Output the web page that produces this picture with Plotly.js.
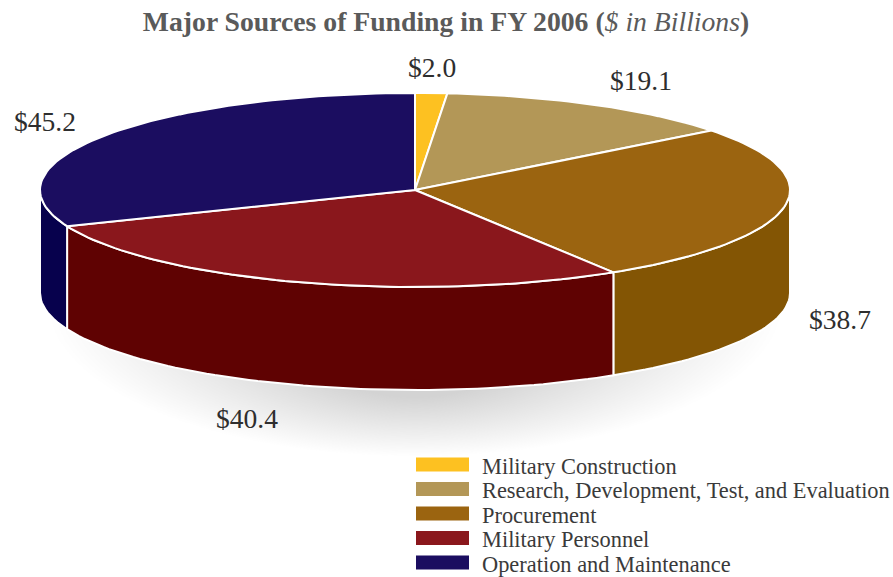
<!DOCTYPE html>
<html>
<head>
<meta charset="utf-8">
<script src="https://cdn.plot.ly/plotly-3.0.1.min.js"></script>
<style>html,body{margin:0;padding:0;background:#fff}#chart{width:893px;height:577px}</style>
</head>
<body>
<div id="chart"></div>
<script>
const categories = ["Military Construction","Research, Development, Test, and Evaluation","Procurement","Military Personnel","Operation and Maintenance"];
const values = [2.0,19.1,38.7,40.4,45.2];
const valueLabels = ["$2.0","$19.1","$38.7","$40.4","$45.2"];
const topColors = ["#fdc121","#b39757","#9b6410","#8a171c","#1b0d60"];
const sideColors = ["#c99a10","#8c7440","#835504","#5f0202","#07014d"];
const labelX = [431.5,640.5,840,247,45];
const labelY = [67,80,319,418,121];

const FONT = '"Liberation Serif", serif';
const CX=415, CY=190, RX=375, RY=97, DEPTH=103;
const total = values.reduce((a,b)=>a+b,0);
const pt = (deg,dy)=>{const r=deg*Math.PI/180;return [CX+RX*Math.sin(r), CY-RY*Math.cos(r)+(dy||0)];};
const arc = (a,b,dy)=>{const n=Math.max(2,Math.ceil(Math.abs(b-a)/1.5));const o=[];for(let i=0;i<=n;i++)o.push(pt(a+(b-a)*i/n,dy));return o;};

const traces=[], topTraces=[];
let acc=0;
values.forEach((v,i)=>{
  const a=acc/total*360, b=(acc+v)/total*360; acc+=v;
  const sa=Math.max(a,90), sb=Math.min(b,270);
  if(sb>sa){
    const poly=arc(sa,sb,0).concat(arc(sb,sa,DEPTH));
    poly.push(poly[0]);
    traces.push({type:'scatter',mode:'lines',x:poly.map(p=>p[0]),y:poly.map(p=>p[1]),fill:'toself',fillcolor:sideColors[i],
      line:{color:'#ffffff',width:2},hoverinfo:'skip',showlegend:false});
  }
  const poly=[[CX,CY]].concat(arc(a,b,0));poly.push([CX,CY]);
  topTraces.push({type:'scatter',mode:'lines',x:poly.map(p=>p[0]),y:poly.map(p=>p[1]),fill:'toself',fillcolor:topColors[i],
    line:{color:'#ffffff',width:2},name:categories[i],text:valueLabels[i],hoverinfo:'name+text',showlegend:false});
});

const shapes=[];
const N=44;
for(let i=0;i<N;i++){
  const t=i/(N-1);
  const rx=366-230*t, ry=152-58*t, cy=304;
  shapes.push({type:'circle',layer:'below',xref:'x',yref:'y',x0:CX-rx,x1:CX+rx,y0:cy-ry,y1:cy+ry,
    fillcolor:'rgba(140,145,150,0.012)',line:{width:0}});
}
const legendRowY = i=>464.5+i*24.5;
categories.forEach((c,i)=>{
  shapes.push({type:'rect',layer:'above',xref:'x',yref:'y',x0:416,x1:469,y0:legendRowY(i)-7,y1:legendRowY(i)+7,
    fillcolor:topColors[i],line:{width:0}});
});
const annotations=[];
valueLabels.forEach((t,i)=>annotations.push({x:labelX[i],y:labelY[i],xref:'x',yref:'y',text:t,showarrow:false,
  xanchor:'center',yanchor:'middle',font:{family:FONT,size:27.5,color:'#2e2e2e'}}));
categories.forEach((c,i)=>annotations.push({x:480,y:legendRowY(i)+1.5,xref:'x',yref:'y',text:c,showarrow:false,
  xanchor:'left',yanchor:'middle',font:{family:FONT,size:22.4,color:'#3a3a3a'}}));

Plotly.newPlot('chart',traces.concat(topTraces),{
  width:893,height:577,margin:{l:0,r:0,t:0,b:0},paper_bgcolor:'#fff',plot_bgcolor:'rgba(0,0,0,0)',
  showlegend:false,
  title:{text:'<b>Major Sources of Funding in FY 2006 (</b><i>$ in Billions</i><b>)</b>',
    x:0.4995,xanchor:'center',y:1-21/577,yanchor:'middle',font:{family:FONT,size:27.7,color:'#5a5a5a'}},
  xaxis:{range:[0,893],visible:false,fixedrange:true},
  yaxis:{range:[577,0],visible:false,fixedrange:true},
  shapes,annotations
},{displayModeBar:false,responsive:false});
</script>
</body>
</html>
